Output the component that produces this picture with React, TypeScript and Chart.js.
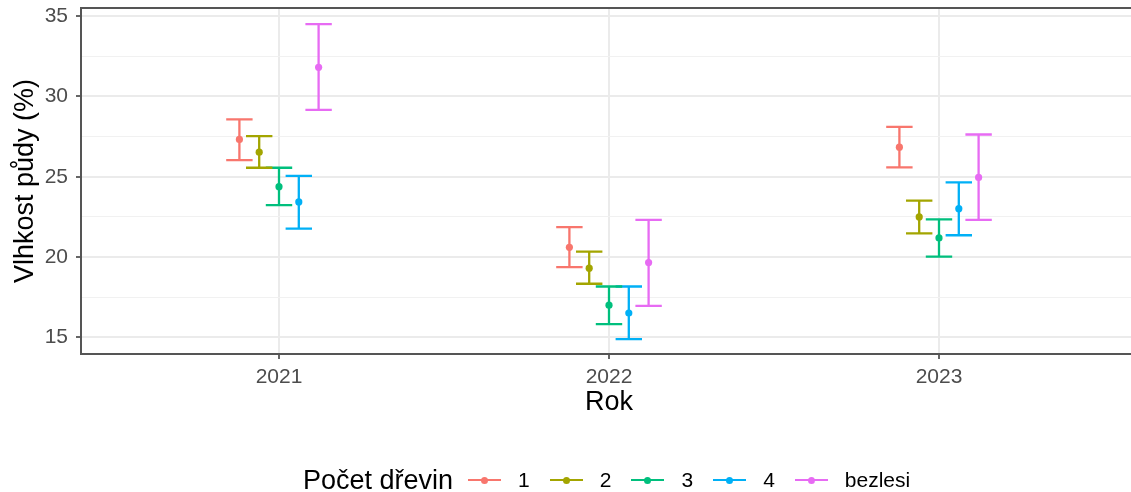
import React, { useEffect, useRef } from "react";
import { Chart, registerables } from "chart.js";
Chart.register(...registerables);

const FONT = "'Liberation Sans', Arial, Helvetica, sans-serif";

// Categories
const years = ["2021", "2022", "2023"];
const groups = ["1", "2", "3", "4", "bezlesi"];
const groupColors = ["#F8766D", "#A3A500", "#00BF7D", "#00B0F6", "#E76BF3"];

// Series values (mean, lower, upper) per group, by year
const mean1 = [27.32, 20.61, 26.84];
const lower1 = [26.04, 19.37, 25.58];
const upper1 = [28.57, 21.86, 28.1];

const mean2 = [26.53, 19.31, 22.5];
const lower2 = [25.56, 18.34, 21.48];
const upper2 = [27.53, 20.34, 23.51];

const mean3 = [24.38, 17.01, 21.19];
const lower3 = [23.24, 15.83, 20.03];
const upper3 = [25.56, 18.17, 22.35];

const mean4 = [23.43, 16.52, 23.01];
const lower4 = [21.77, 14.9, 21.36];
const upper4 = [25.06, 18.17, 24.65];

const meanB = [31.81, 19.66, 24.96];
const lowerB = [29.16, 16.97, 22.31];
const upperB = [34.5, 22.31, 27.63];

// Tick labels
const yMajorTicks = [15, 20, 25, 30, 35];
const yMinorTicks = [17.5, 22.5, 27.5, 32.5];

const xTitle = "Rok";
const yTitle = "Vlhkost půdy (%)";
const legendTitle = "Počet dřevin";

const means = [mean1, mean2, mean3, mean4, meanB];
const lowers = [lower1, lower2, lower3, lower4, lowerB];
const uppers = [upper1, upper2, upper3, upper4, upperB];

const DODGE = 0.3;
const CAP_HALF = 0.04;

const framePlugin = {
  id: "frame",
  afterDatasetsDraw(chart: any) {
    const { ctx, chartArea } = chart;
    const { left, top, right, bottom } = chartArea;
    ctx.save();
    ctx.strokeStyle = "#555555";
    ctx.lineWidth = 2;
    ctx.beginPath();
    ctx.moveTo(right, top);
    ctx.lineTo(left, top);
    ctx.lineTo(left, bottom);
    ctx.lineTo(right, bottom);
    ctx.lineTo(right, top);
    ctx.stroke();
    ctx.restore();
  },
};

export default function App() {
  const ref = useRef<HTMLCanvasElement>(null);

  useEffect(() => {
    document.body.style.margin = "0";
    Chart.defaults.font.family = FONT;
    const n = groups.length;
    const datasets: any[] = [];

    groups.forEach((g, gi) => {
      const off = (gi - (n - 1) / 2) * (DODGE / n);
      datasets.push({
        label: g,
        data: years.map((_, yi) => ({ x: yi + 1 + off, y: means[gi][yi] })),
        backgroundColor: groupColors[gi],
        borderColor: groupColors[gi],
        pointRadius: 3.6,
        pointBorderWidth: 0,
        showLine: false,
        order: 0,
      });
    });

    groups.forEach((g, gi) => {
      const off = (gi - (n - 1) / 2) * (DODGE / n);
      const pts: any[] = [];
      years.forEach((_, yi) => {
        const x = yi + 1 + off;
        const lo = lowers[gi][yi];
        const hi = uppers[gi][yi];
        pts.push({ x, y: lo }, { x, y: hi }, { x, y: null });
        pts.push({ x: x - CAP_HALF, y: hi }, { x: x + CAP_HALF, y: hi }, { x, y: null });
        pts.push({ x: x - CAP_HALF, y: lo }, { x: x + CAP_HALF, y: lo }, { x, y: null });
      });
      datasets.push({
        label: g + " err",
        data: pts,
        borderColor: groupColors[gi],
        backgroundColor: groupColors[gi],
        borderWidth: 2.3,
        pointRadius: 0,
        showLine: true,
        spanGaps: false,
        order: 1,
      });
    });

    const chart = new Chart(ref.current as HTMLCanvasElement, {
      type: "scatter",
      data: { datasets },
      plugins: [framePlugin],
      options: {
        animation: false,
        responsive: false,
        events: [],
        layout: { padding: { top: 8, left: 0, right: 0, bottom: 0 } },
        plugins: { legend: { display: false }, tooltip: { enabled: false } },
        scales: {
          x: {
            type: "linear",
            min: 0.4,
            max: 3.6,
            afterBuildTicks: (axis: any) => {
              axis.ticks = years.map((_, i) => ({ value: i + 1 }));
            },
            afterFit: (scale: any) => {
              scale.height = 138;
              scale.paddingLeft = 0;
              scale.paddingRight = 0;
            },
            border: { display: false },
            grid: {
              color: "#ebebeb",
              lineWidth: 2,
              tickColor: "#333333",
              tickLength: 5,
              tickWidth: 1.5,
            },
            ticks: {
              autoSkip: false,
              maxRotation: 0,
              padding: 6,
              color: "#4d4d4d",
              font: { size: 21 },
              callback: (v: any) => years[Math.round(Number(v)) - 1] ?? "",
            },
            title: {
              display: true,
              text: xTitle,
              color: "#000000",
              font: { size: 27 },
              padding: { top: 0, bottom: 73 },
            },
          },
          y: {
            type: "linear",
            min: 13.97,
            max: 35.5,
            afterBuildTicks: (axis: any) => {
              axis.ticks = [...yMajorTicks, ...yMinorTicks]
                .sort((a, b) => a - b)
                .map((v) => ({ value: v }));
            },
            afterFit: (scale: any) => {
              scale.width = 81;
              scale.paddingTop = 0;
              scale.paddingBottom = 0;
            },
            border: { display: false },
            grid: {
              color: (c: any) =>
                yMajorTicks.includes(c.tick?.value) ? "#ebebeb" : "#f1f1f1",
              lineWidth: (c: any) => (yMajorTicks.includes(c.tick?.value) ? 2 : 1),
              tickColor: (c: any) =>
                yMajorTicks.includes(c.tick?.value) ? "#333333" : "rgba(0,0,0,0)",
              tickLength: 5,
              tickWidth: 1.5,
            },
            ticks: {
              autoSkip: false,
              padding: 8,
              color: "#4d4d4d",
              font: { size: 21 },
              callback: (v: any) => (yMajorTicks.includes(Number(v)) ? String(v) : ""),
            },
            title: {
              display: true,
              text: yTitle,
              color: "#000000",
              font: { size: 27 },
              padding: { top: 9, bottom: 0 },
            },
          },
        },
      } as any,
    });
    return () => chart.destroy();
  }, []);

  return (
    <div style={{ position: "relative", width: 1131, height: 492, overflow: "hidden", fontFamily: FONT }}>
      <canvas ref={ref} width={1141} height={492} style={{ display: "block" }} />
      <div
        style={{
          position: "absolute",
          left: 303,
          top: 465,
          height: 30,
          display: "flex",
          alignItems: "center",
          whiteSpace: "nowrap",
        }}
      >
        <span style={{ fontSize: 27, color: "#000", marginRight: 15 }}>{legendTitle}</span>
        {groups.map((g, gi) => (
          <div key={g} style={{ display: "flex", alignItems: "center", marginRight: 20 }}>
            <div style={{ position: "relative", width: 33, height: 30 }}>
              <div
                style={{
                  position: "absolute",
                  left: 0,
                  top: 13.75,
                  width: 33,
                  height: 2.5,
                  background: groupColors[gi],
                }}
              />
              <div
                style={{
                  position: "absolute",
                  left: 13,
                  top: 11.5,
                  width: 7,
                  height: 7,
                  borderRadius: "50%",
                  background: groupColors[gi],
                }}
              />
            </div>
            <span style={{ fontSize: 21, color: "#000", marginLeft: 17 }}>{g}</span>
          </div>
        ))}
      </div>
    </div>
  );
}
